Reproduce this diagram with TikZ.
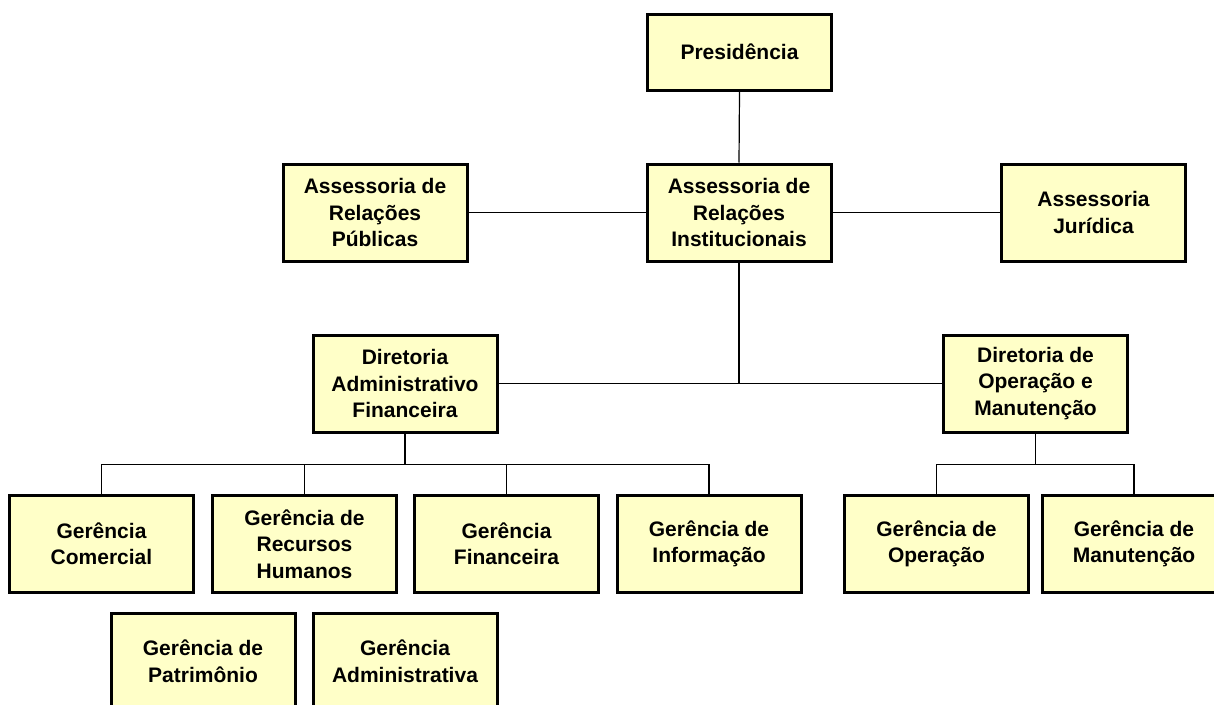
\documentclass[tikz,border=0pt]{standalone}
\usepackage{fontspec}
\setmainfont{Liberation Sans}
\definecolor{boxfill}{HTML}{FFFFC8}
\usetikzlibrary{calc}

\begin{document}
\begin{tikzpicture}[
        x=1pt, y=-1pt,
        every node/.style = {font=\fontsize{21}{26.5}\selectfont\bfseries},
        box/.style = {draw=black, fill=boxfill, line width=3pt, align=center,
                      minimum width=184pt, minimum height=97pt, inner sep=0pt},
        wire/.style = {line width=1.2pt}
    ]
    \useasboundingbox (0,0) rectangle (1214,704);
    \clip (0,0) rectangle (1214,704);

    \node[box, minimum height=76pt] (pres) at (739.5,52) {Presidência};
    \node[box] (ari) at (739,212.5) {Assessoria de\\Relações\\Institucionais};
    \node[box] (arp) at (375,212.5) {Assessoria de\\Relações\\Públicas};
    \node[box] (aj) at (1093.5,212.5) {Assessoria\\Jurídica};

    \node[box] (daf) at (405,383.5) {Diretoria\\Administrativo\\Financeira};
    \node[box] (dom) at (1035.5,383.5) {Diretoria de\\Operação e\\Manutenção};

    \node[box] (gc) at (101.5,544) {Gerência\\Comercial};
    \node[box] (grh) at (304.5,544) {Gerência de\\Recursos\\Humanos};
    \node[box] (gf) at (506.5,544) {Gerência\\Financeira};
    \node[box] (gi) at (709,544) {Gerência de\\Informação};
    \node[box] (gop) at (936.5,544) {Gerência de\\Operação};
    % runs off the right edge
    \node[box, minimum width=210pt] (gman) at (1147,544)
        {Gerência de\hspace*{26pt}\\Manutenção\hspace*{26pt}};

    \node[box] (gpat) at (203,661.5) {Gerência de\\Patrimônio};
    \node[box] (gadm) at (405,661.5) {Gerência\\Administrativa};

    % upper levels
    \draw[wire] (pres.south) -- (ari.north);
    \draw[wire] (arp.east) -- (ari.west);
    \draw[wire] (ari.east) -- (aj.west);
    \draw[wire] (ari.south) -- (ari.south |- daf.east);
    \draw[wire] (daf.east) -- (dom.west);

    % buses to the gerencias
    \coordinate (busdaf) at ($(daf.south)+(0,31)$);
    \coordinate (busdom) at ($(dom.south)+(0,31)$);
    \coordinate (gmantop) at ($(gman.north)+(-13,0)$);
    \foreach \g in {gc,grh,gf,gi}
        \draw[wire] (daf.south) -- (busdaf) -| (\g.north);
    \foreach \g in {gop.north,gmantop}
        \draw[wire] (dom.south) -- (busdom) -| (\g);

\end{tikzpicture}
\end{document}
